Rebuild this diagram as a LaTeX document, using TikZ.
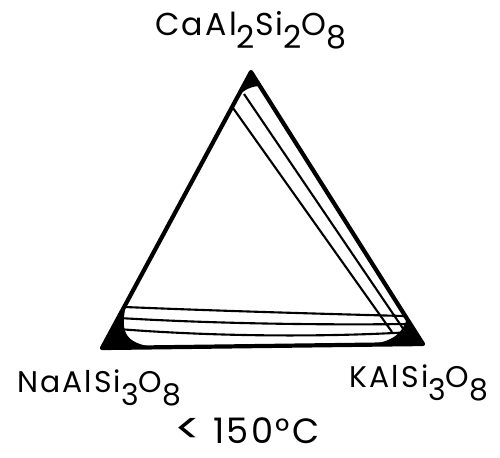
\documentclass[tikz,border=0pt]{standalone}
\usepackage{fontspec}
\setmainfont{Poppins}
\newfontfamily\lblfont[LetterSpace=7]{Poppins}
\usetikzlibrary{positioning}
\newcommand{\chsub}[1]{\raisebox{-0.8ex}{#1}}

\begin{document}
\begin{tikzpicture}[x=0.02cm, y=-0.02cm,
                edge/.style={line width=2.4pt, line join=round},
                tie/.style={line width=1.2pt},
                corner/.style={fill=black},
                lbl/.style={font=\lblfont\fontsize{17}{20}\selectfont, anchor=base}
            ]
                \useasboundingbox (0,0) rectangle (500,457);

                \coordinate (an) at (251,72);
                \coordinate (ab) at (102,348);
                \coordinate (or) at (423,344);

                % solid solution at the corners
                \fill[corner] (an) -- (237,97) .. controls (245,89) and (252,86) .. (261,86) -- cycle;
                \fill[corner] (ab) -- (126,304) .. controls (121,330) and (122,343) .. (155,347.3) -- cycle;
                \fill[corner] (or) -- (407,318) .. controls (403,333) and (393,342) .. (368,344.6) -- cycle;

                % tie lines
                \draw[tie] (233,108) -- (392,332);
                \draw[tie] (244,94) -- (404,330);
                \draw[tie] (125,307) .. controls (220,311) and (330,314) .. (404,316);
                \draw[tie] (119,318) .. controls (220,324) and (330,325) .. (408,324);
                \draw[tie] (118,329) .. controls (220,337) and (330,337) .. (412,332);

                \draw[edge] (an) -- (ab) -- (or) -- cycle;

                \node[lbl, font=\lblfont\fontsize{18}{21}\selectfont] (anlbl) at (251,35) {CaAl\chsub{2}Si\chsub{2}O\chsub{8}};
                \node[lbl] (ablbl) at (99,392) {NaAlSi\chsub{3}O\chsub{8}};
                \node[lbl] (orlbl) at (419,387) {KAlSi\chsub{3}O\chsub{8}};
                \node[lbl, font=\lblfont\fontsize{20}{24}\selectfont] (temp) at (247,443) {\scalebox{1.4}[1.2]{<} 150°C};
            \end{tikzpicture}
\end{document}
